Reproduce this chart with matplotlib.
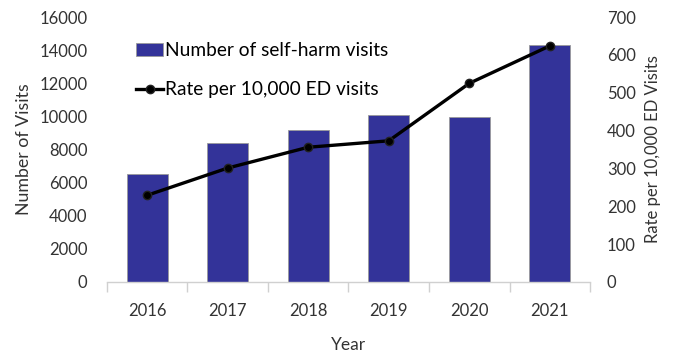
import matplotlib.pyplot as plt
import numpy as np

plt.rcParams['font.family'] = ['Lato', 'DejaVu Sans']

# data
years = ['2016', '2017', '2018', '2019', '2020', '2021']
visits = [6550, 8420, 9200, 10080, 9950, 14320]
rate = [229, 301, 356, 373, 525, 624]

bar_color = '#333399'

fig = plt.figure(figsize=(6.76, 3.56), dpi=100)
ax = fig.add_axes([0.158, 0.208, 0.715, 0.744])
ax2 = ax.twinx()

x = np.arange(len(years))
bars = ax.bar(x, visits, width=0.51, color=bar_color, edgecolor='#9a9a9a',
              linewidth=0.6, label='Number of self-harm visits', zorder=2)
line, = ax2.plot(x, rate, color='black', linewidth=2.4, marker='o',
                 markersize=6, markerfacecolor='black', markeredgecolor='#222222',
                 label='Rate per 10,000 ED visits', zorder=3)

ax.set_xlim(-0.5, 5.5)
ax.set_ylim(0, 16000)
ax2.set_ylim(0, 700)
ax.set_yticks(range(0, 16001, 2000))
ax2.set_yticks(range(0, 701, 100))

ax.set_xticks(x)
ax.set_xticklabels(years)
ax.set_xticks(np.arange(-0.5, 6.0, 1.0), minor=True)
ax.tick_params(axis='x', which='major', length=0, pad=15, labelsize=12)
ax.tick_params(axis='x', which='minor', length=7, color='#d0d0d0', width=1)
ax.tick_params(axis='y', length=0, labelsize=12, pad=14)
ax2.tick_params(axis='y', length=0, labelsize=12, pad=12)

for a in (ax, ax2):
    for s in ['top', 'left', 'right']:
        a.spines[s].set_visible(False)
    a.spines['bottom'].set_color('#d0d0d0')
    a.spines['bottom'].set_linewidth(1)
ax2.spines['bottom'].set_visible(False)

for lab in ax.get_yticklabels() + ax2.get_yticklabels() + ax.get_xticklabels():
    lab.set_color('#333333')

ax.set_xlabel('Year', fontsize=12.5, color='#333333', labelpad=13)
ax.set_ylabel('Number of Visits', fontsize=12.8, color='#333333', labelpad=5)
ax2.set_ylabel('Rate per 10,000 ED Visits', fontsize=12, color='#333333', labelpad=7)

ax.legend([bars, line], ['Number of self-harm visits', 'Rate per 10,000 ED visits'],
          loc='upper left', bbox_to_anchor=(0.045, 0.935), frameon=False,
          fontsize=13.8, labelspacing=1.15, handlelength=1.4, handletextpad=0.1,
          handleheight=0.63, borderaxespad=0)

fig.savefig('out.png', dpi=100)
